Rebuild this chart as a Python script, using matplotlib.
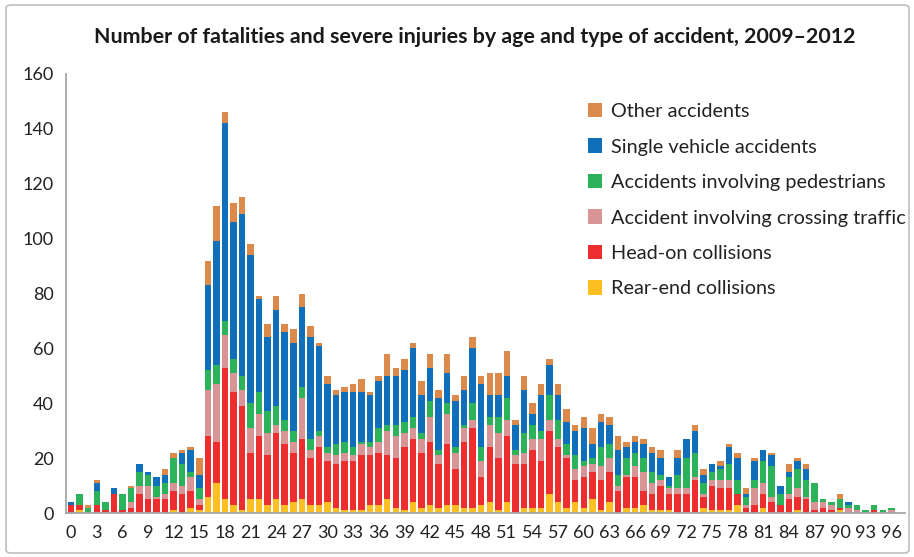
import matplotlib
matplotlib.use("Agg")
import matplotlib.pyplot as plt
from matplotlib.patches import Patch, FancyBboxPatch
import numpy as np

ages = list(range(0, 97))

rear_end = [0,1,0,0,0,0,0,0,0,0, 0,0,1,0,2,1,6,11,5,3, 1,5,5,3,5,3,4,5,3,3,
            4,2,1,1,1,3,3,5,2,1, 4,2,3,2,3,3,2,2,3,4, 1,4,0,2,2,2,7,4,2,4,
            2,5,1,4,0,2,2,3,1,1, 1,0,0,0,2,1,1,1,3,0, 0,2,0,0,0,1,0,0,0,0,
            1,0,0,0,0,0,0]
head_on = [3,2,0,3,1,7,1,2,7,5, 5,5,7,7,6,2,22,15,48,41, 38,17,23,18,24,22,18,22,17,21,
           15,16,18,18,20,18,19,16,18,23, 23,20,23,16,22,13,24,29,10,20, 19,24,18,16,21,17,23,20,18,8,
           11,10,11,11,8,11,11,5,6,9, 6,7,7,12,4,9,8,8,4,2, 3,5,4,3,5,5,5,1,2,1,
           1,0,0,0,1,0,0]
crossing = [0,0,0,0,0,0,0,2,3,5, 1,2,3,3,5,2,17,21,12,7, 6,9,8,8,3,5,4,15,3,4,
            3,3,3,2,4,3,4,9,8,5, 4,5,9,3,11,6,5,3,6,8, 9,6,3,4,4,8,4,3,1,4,
            4,3,5,5,2,1,4,7,4,2, 2,2,2,1,1,2,3,3,0,1, 6,4,2,0,2,3,1,3,2,2,
            0,2,1,0,0,0,1]
pedestrians = [0,4,2,5,3,0,6,5,5,4, 4,4,9,8,2,4,7,7,5,5, 5,9,8,8,7,4,4,4,4,2,
               2,4,4,3,1,2,5,2,4,4, 4,2,6,2,4,2,1,6,5,3, 6,8,2,7,5,3,9,7,4,5,
               2,2,7,5,4,6,5,5,4,2, 1,5,11,9,4,3,4,6,5,3, 3,8,11,4,6,7,6,7,1,1,
               3,1,2,1,2,1,1]
single_vehicle = [1,0,0,3,0,2,0,0,3,1, 3,3,0,4,8,5,31,45,72,50, 59,54,34,27,35,32,32,29,37,31,
                  23,18,18,20,18,17,17,18,18,19, 25,14,12,19,11,17,13,20,23,8, 8,8,9,16,4,13,11,9,8,9,
                  12,5,9,7,9,4,4,5,7,6, 3,6,7,8,3,3,1,6,8,1, 7,4,4,3,2,3,4,0,0,0,
                  0,1,0,0,0,0,0]
other = [0,0,1,1,0,0,0,1,0,0, 0,2,2,1,1,6,9,13,4,7, 6,4,1,5,5,3,5,5,4,1,
         3,2,2,3,5,1,2,8,3,4, 2,5,5,3,7,2,5,4,3,8, 8,9,2,5,4,4,2,4,5,2,
         4,6,3,3,5,2,2,2,2,3, 0,3,0,2,2,0,2,1,2,2, 1,0,1,0,3,1,2,0,0,0,
         2,0,0,0,0,0,0]

series = [
    ("Rear-end collisions", rear_end, "#FDBF21"),
    ("Head-on collisions", head_on, "#EE2D2F"),
    ("Accident involving crossing traffic", crossing, "#D99595"),
    ("Accidents involving pedestrians", pedestrians, "#2BB25B"),
    ("Single vehicle accidents", single_vehicle, "#0F6FBB"),
    ("Other accidents", other, "#DB8A4B"),
]

xticks = list(range(0, 97, 3))
yticks = list(range(0, 161, 20))

plt.rcParams['font.family'] = ['Lato', 'DejaVu Sans']

fig = plt.figure(figsize=(9.14, 5.57), dpi=100)
ax = fig.add_axes([66/914, 1-513/557, (905-66)/914, (513-74)/557])

bottom = np.zeros(len(ages))
handles = []
for name, vals, col in series:
    v = np.array(vals, dtype=float)
    ax.bar(ages, v, bottom=bottom, width=0.76, color=col, edgecolor='none', zorder=2)
    bottom += v
    handles.append(Patch(facecolor=col, edgecolor='none', label=name))

ax.set_xlim(-0.6, 97.6)
ax.set_ylim(0, 160)
ax.set_xticks(xticks)
ax.set_xticklabels([str(t) for t in xticks], fontsize=13, color='#222222')
ax.set_yticks(yticks)
ax.set_yticklabels([str(t) for t in yticks], fontsize=13, color='#222222')
ax.tick_params(axis='both', length=0)
ax.tick_params(axis='x', pad=9)
ax.tick_params(axis='y', pad=9)
for s in ['top', 'right']:
    ax.spines[s].set_visible(False)
for s in ['left', 'bottom']:
    ax.spines[s].set_color('#A6A6A6')
    ax.spines[s].set_linewidth(1.3)

fig.text(475/914, 1-37/557, "Number of fatalities and severe injuries by age and type of accident, 2009\u20132012",
         ha='center', va='center', fontsize=15.4, fontweight='bold', color='#1a1a1a')

leg = fig.legend(handles=handles[::-1], loc='upper left', bbox_to_anchor=(588/914, 1-103/557),
                 frameon=False, fontsize=14.3, handlelength=0.72, handleheight=0.72,
                 handletextpad=0.45, labelspacing=0.93, borderaxespad=0, borderpad=0)
for t in leg.get_texts():
    t.set_color('#222222')

border = FancyBboxPatch((6/914, 4/557), 903/914, 548/557, boxstyle="round,pad=0,rounding_size=0.006",
                        transform=fig.transFigure, fill=False, edgecolor='#BFBFBF', linewidth=1.2)
fig.patches.append(border)

fig.savefig("out.png", dpi=100, facecolor='white')
